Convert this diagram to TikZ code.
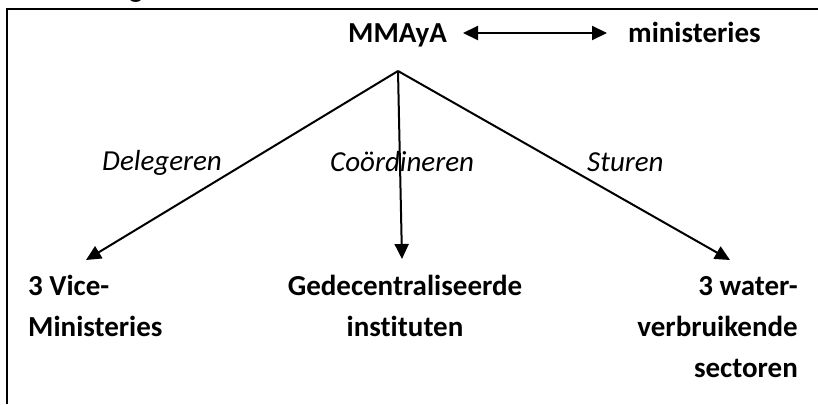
\documentclass[tikz,border=0pt]{standalone}
\usepackage{fontspec}
\setmainfont{Carlito}[Ligatures=NoCommon]
\usetikzlibrary{arrows.meta}
\begin{document}
\begin{tikzpicture}[x=1pt,y=-1pt,
  lbl/.style={font=\fontsize{29}{41}\selectfont\bfseries, inner sep=0pt},
  verb/.style={font=\fontsize{29}{33}\selectfont\itshape, inner sep=0pt},
  arr/.style={line width=2pt, -{Triangle[length=15pt,width=14pt]}},
  frame/.style={line width=2.4pt}]
\useasboundingbox (0,0) rectangle (818,404);
\clip (0,0) rectangle (818,404);
% frame
\draw[frame] (7,404) -- (7,9) -- (818,9);
\node[lbl, anchor=base west] (head) at (129,-2) {g};
% top row
\node[lbl, anchor=base west] (mm) at (348,42) {MMAyA};
\node[lbl, anchor=base west] (mi) at (628,42) {ministeries};
\coordinate (da) at (463,33);
\coordinate (db) at (607,33);
\draw[line width=2pt, {Triangle[length=15pt,width=14pt]}-{Triangle[length=15pt,width=14pt]}]
  (da) -- (db);
% apex and tips
\coordinate (apex) at (398,71);
\coordinate (t1) at (86,260);
\coordinate (t2) at (402,259);
\coordinate (t3) at (730,260);
\draw[arr] (apex) -- (t1);
\draw[arr] (apex) -- (t2);
\draw[arr] (apex) -- (t3);
% verbs
\node[verb, anchor=base west] (v1) at (102,170) {Delegeren};
\node[verb, anchor=base west] (v2) at (330,171) {Coördineren};
\node[verb, anchor=base west] (v3) at (587,171) {Sturen};
% bottom nodes
\node[lbl, anchor=base west] (b1a) at (28,295) {3 Vice-};
\node[lbl, anchor=base west] (b1b) at (28,336) {Ministeries};
\node[lbl, anchor=base] (b2a) at (405,295) {Gedecentraliseerde};
\node[lbl, anchor=base] (b2b) at (405,336) {instituten};
\node[lbl, anchor=base east] (b3a) at (798,295) {3 water-};
\node[lbl, anchor=base east] (b3b) at (798,336) {verbruikende};
\node[lbl, anchor=base east] (b3c) at (798,377) {sectoren};
\end{tikzpicture}
\end{document}
